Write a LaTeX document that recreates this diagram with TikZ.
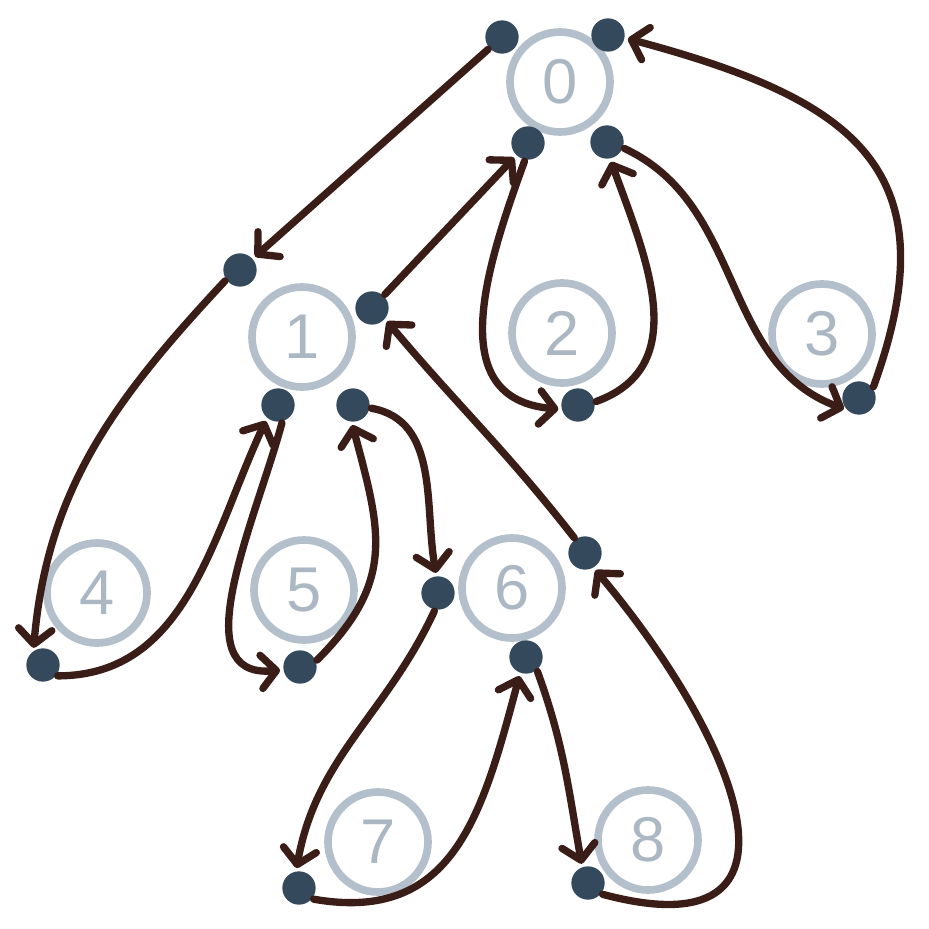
\documentclass[tikz,border=0pt]{standalone}
\usepackage{fontspec}
\setmainfont{Liberation Sans}
\usepackage{tikz}
\usetikzlibrary{arrows.meta}
\definecolor{ringgray}{HTML}{B3BFCA}
\definecolor{numgray}{HTML}{ABB7C3}
\definecolor{dotblue}{HTML}{34495B}
\definecolor{tourbrown}{HTML}{3A1D17}

\begin{document}
\begin{tikzpicture}[x=3mm,y=3mm,
	vertex/.style={circle, draw=ringgray, line width=2.3mm, minimum size=30mm, inner sep=0pt, text=numgray, font=\fontsize{54}{54}\selectfont},
	dot/.style={circle, fill=dotblue, minimum size=10mm, inner sep=0pt},
	tour/.style={draw=tourbrown, line width=2.2mm, line cap=round, -{Straight Barb[round,length=4.5mm,width=10mm]}, shorten >=1mm, shorten <=0.5mm}]
	\useasboundingbox (0,0) rectangle (92.9,-92.9);
	% the tree
	\foreach \n/\x/\y in {0/56.0/-8.2, 1/30.2/-33.7, 2/56.2/-33.3, 3/82.2/-33.4, 4/9.7/-59.3, 5/30.4/-59.0, 6/51.2/-58.8, 7/37.8/-84.2, 8/64.8/-84.0}
	{
		\node[vertex] (v\n) at (\x,\y) {\n};
	}
	% the stops of the walk
	\foreach \name/\x/\y in {d0a/50.2/-3.7, d0b/60.8/-3.5, d0c/52.8/-14.3, d0d/60.7/-14.2, d1a/24.0/-27.0, d1b/37.2/-30.8, d1c/27.8/-40.5, d1d/35.3/-40.5, d2/57.8/-40.5, d3/85.9/-39.8, d4/4.3/-66.5, d5/30.0/-66.7, d6a/43.8/-59.3, d6b/58.5/-55.3, d6c/52.6/-65.7, d7/29.9/-88.8, d8/58.8/-88.3}
	{
		\node[dot] (\name) at (\x,\y) {};
	}
	% the walk round the tree
	\draw[tour] (d0a) -- (d1a);
	\draw[tour] (d1a.215) to[out=227,in=85] (d4.125);
	\draw[tour] (d4.-40) to[out=0,in=-115] (d1c.230);
	\draw[tour] (d1c.-75) to[out=-105,in=185,looseness=1.05] (d5.190);
	\draw[tour] (d5.20) to[out=45,in=-75,looseness=1.2] (d1d.-95);
	\draw[tour] (d1d.-10) to[out=-10,in=100] (d6a.95);
	\draw[tour] (d6a.-100) to[out=-115,in=80] (d7.100);
	\draw[tour] (d7.-40) to[out=-10,in=-105,looseness=1.2] (d6c.-110);
	\draw[tour] (d6c.-50) to[out=-70,in=100] (d8.110);
	\draw[tour] (d8.-40) to[out=-15,in=-50,looseness=1.8] (d6b.-60);
	\draw[tour] (d6b.125) to[out=128,in=-50] (d1b.-40);
	\draw[tour] (d1b) -- (d0c);
	\draw[tour] (d0c.-100) to[out=-110,in=175,looseness=1.2] (d2.195);
	\draw[tour] (d2.10) to[out=20,in=-70,looseness=1.1] (d0d.-80);
	\draw[tour] (d0d.-20) to[out=-25,in=160] (d3.225);
	\draw[tour] (d3.35) to[out=70,in=-15,looseness=1.4] (d0b.-10);
\end{tikzpicture}
\end{document}
